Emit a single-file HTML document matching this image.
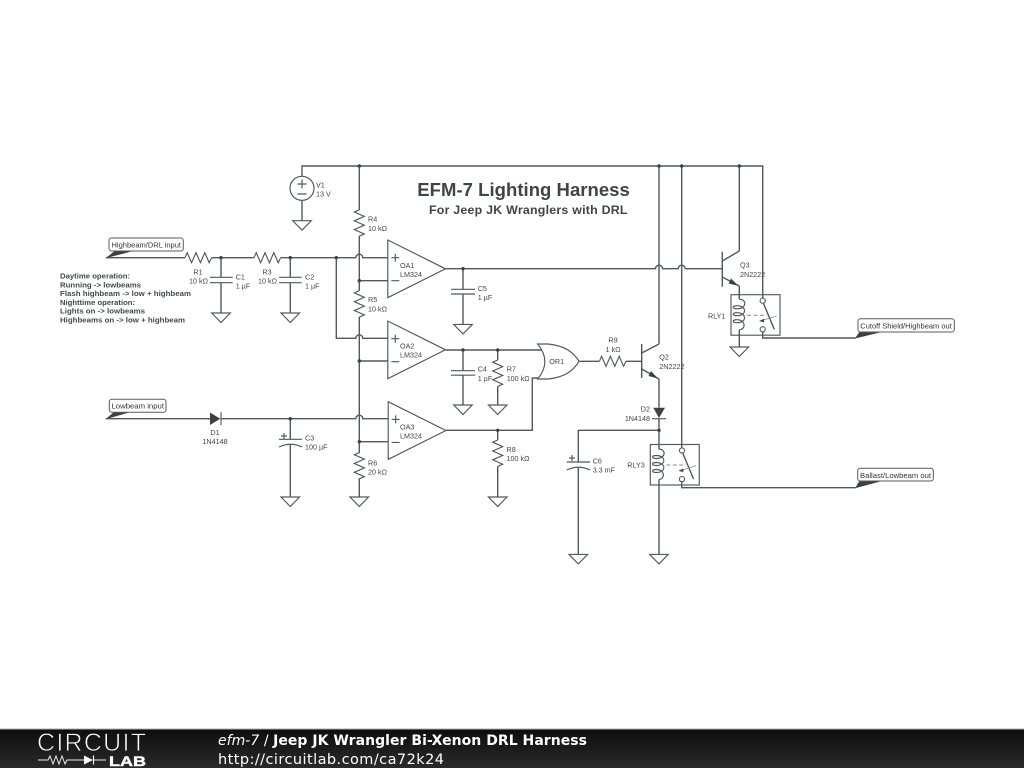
<!DOCTYPE html>
<html><head><meta charset="utf-8"><style>
html,body{margin:0;padding:0;background:#fff;width:1024px;height:768px;overflow:hidden}
svg{display:block;filter:blur(.35px)}
.w{fill:none;stroke:#54585a;stroke-width:1.4}
.s{fill:none;stroke:#54585a;stroke-width:1.15}
.t{font-family:"Liberation Sans",sans-serif;font-size:7.2px;fill:#444}
.b{font-family:"Liberation Sans",sans-serif;font-size:7.4px;font-weight:bold;fill:#44474a}
.l{font-family:"Liberation Sans",sans-serif;font-size:7.2px;fill:#333}
.lb{fill:#fff;stroke:#5a5a5a;stroke-width:1}
.d{fill:#3c4143}
</style></head><body>
<svg width="1024" height="768" viewBox="0 0 1024 768" xmlns="http://www.w3.org/2000/svg">
<defs>
<g id="g"><path class="s" d="M-9.3 0H9.3L0 9.5Z"/></g>
<g id="rh"><path class="s" d="M0 0L2.2 -5L6.6 5L11 -5L15.4 5L19.8 -5L24.2 5L26.6 0"/></g>
<g id="rv"><path class="s" d="M0 0L-5 2.2L5 6.6L-5 11L5 15.4L-5 19.8L5 24.2L0 26.4"/></g>
<g id="j"><circle r="1.7" fill="#3c4143"/></g>
<g id="oa"><path class="s" d="M0 0V57.7L57.7 28.8Z"/><path class="s" d="M3.5 17.7H11.5M7.5 13.7V21.7M3.5 40.7H11.5"/></g>
<g id="rly">
<rect class="s" x="0" y="0" width="49" height="40.5"/>
<path class="s" d="M8.3 4.5C16 4.5 16 14 6 14C1 14 1 11 6 11C16 11 16 21 6 21C1 21 1 18 6 18C16 18 16 28 6 28C1 28 1 25 6 25C15 25 15 35 8.3 35"/>
<path fill="none" stroke="#888" stroke-width="1" stroke-dasharray="4 2.5" d="M16 20.5H36"/>
<circle cx="31.7" cy="6" r="2.6" fill="#fff" stroke="#54585a" stroke-width="1.1"/>
<circle cx="31.7" cy="34.6" r="2.6" fill="#fff" stroke="#54585a" stroke-width="1.1"/>
<path class="w" d="M32.4 8.5L43.3 34.6"/>
<path fill="none" stroke="#888" stroke-width=".8" d="M45.7 21.3L30 26"/>
<path class="d" d="M28 26.4L33 24V27.5Z"/>
</g>
</defs>

<!-- wires -->
<g class="w">
<path d="M302 176V166H762.7V298"/>
<path d="M302 200V221"/>
<path d="M359.3 166V210M359.3 236V290.7M359.3 317V453.3M359.3 478.3V497"/>
<path d="M659 166V344M681.7 166V447.7M739.3 166V251"/>
<path d="M106 257.7H185M211.6 257.7H254M280.6 257.7H355.8A3.5 3.5 0 0 1 362.8 257.7H388"/>
<path d="M336.3 257.7V338.3H355.8A3.5 3.5 0 0 1 362.8 338.3H388"/>
<path d="M359.3 280.7H388M359.3 361H388M359.3 441.7H388"/>
<path d="M106 418.7H210M221 418.7H355.8A3.5 3.5 0 0 1 362.8 418.7H388"/>
<path d="M221 257.7V277.3M221 282.7V313M290.3 257.7V277.3M290.3 282.7V313"/>
<path d="M445.3 268.7H655.5A3.5 3.5 0 0 1 662.5 268.7H678.2A3.5 3.5 0 0 1 685.2 268.7H722.3"/>
<path d="M463 268.7V289.3M463 294V324.5"/>
<path d="M445.3 350H541.5"/>
<path d="M463 350V370.7M463 375V405M497.7 350V360M497.7 386.4V405"/>
<path d="M446 430.3H532.3V378H539"/>
<path d="M497.7 430.3V440M497.7 466.4V497"/>
<path d="M579 361.3H599.3M626 361.3H641.7"/>
<path d="M659 379V407.7M659 418.5V449M659 480V554.5"/>
<path d="M659 430.3H578.3V462M578.3 468V554.5"/>
<path d="M290.3 418.7V439.3M290.3 444V497"/>
<path d="M739.3 286V299.2M739.3 330V347"/>
<path d="M762.7 332V338H856"/>
<path d="M681.7 481.5V487.7H856"/>
</g>

<!-- transistors -->
<g class="w">
<path d="M641.7 344V378M641.7 353L659 344M641.7 369L659 379"/>
<path d="M722.3 251.7V286.7M722.3 261L739.3 251M722.3 277L739.3 286"/>
</g>
<path class="d" d="M658 378.5L651 371L648.5 376Z"/>
<path class="d" d="M738.3 285.7L731 278.5L728.5 283.5Z"/>

<!-- V1 -->
<circle cx="302" cy="188.3" r="12" fill="#fff" stroke="#54585a" stroke-width="1.2"/>
<path class="s" d="M297.5 184H306.5M302 179.5V188.5M297.5 194H306.5"/>

<!-- grounds -->
<use href="#g" x="302" y="220.7"/>
<use href="#g" x="221" y="313"/>
<use href="#g" x="290.3" y="313"/>
<use href="#g" x="463" y="324.4"/>
<use href="#g" x="463" y="405"/>
<use href="#g" x="497.7" y="405"/>
<use href="#g" x="290.3" y="497"/>
<use href="#g" x="359.3" y="497"/>
<use href="#g" x="497.7" y="497"/>
<use href="#g" x="578.3" y="554.4"/>
<use href="#g" x="659" y="554.4"/>
<use href="#g" x="739.3" y="347"/>

<!-- resistors -->
<use href="#rh" x="185" y="257.7"/>
<use href="#rh" x="254" y="257.7"/>
<use href="#rh" x="599.4" y="361.3"/>
<use href="#rv" x="359.3" y="209.8"/>
<use href="#rv" x="359.3" y="290.7"/>
<use href="#rv" x="359.3" y="452.5"/>
<use href="#rv" x="497.7" y="360"/>
<use href="#rv" x="497.7" y="440"/>

<!-- capacitors -->
<g class="s">
<path d="M210 277.3H232.7M210 282.7H232.7"/>
<path d="M279 277.3H301.6M279 282.7H301.6"/>
<path d="M451 289.3H475M451 294H475"/>
<path d="M451 370.7H475M451 375.2H475"/>
<path d="M279 439.3H302M279 447Q290.5 441.5 302 447M284 433V439M281 436H287"/>
<path d="M566.7 462H590M566.7 470Q578.3 464.5 590 470M572 455V461M569 458H575"/>
</g>

<!-- op amps -->
<use href="#oa" x="387.8" y="240"/>
<use href="#oa" x="387.8" y="321"/>
<use href="#oa" x="388.2" y="401.7"/>

<!-- OR gate -->
<path class="s" fill="#fff" d="M537.7 344H548Q570 346 579 361.3Q570 377 548 379H537.7Q552 361.5 537.7 344Z"/>

<!-- diodes -->
<path class="d" d="M210 412.5V425L220.3 418.7Z"/>
<path class="s" d="M221 412.3V425.2"/>
<path class="d" d="M653.3 407.7H665L659 418Z"/>
<path class="s" d="M652 418.7H666"/>

<!-- junctions -->
<use href="#j" x="359.3" y="166"/><use href="#j" x="659" y="166"/><use href="#j" x="681.7" y="166"/><use href="#j" x="739.3" y="166"/>
<use href="#j" x="221" y="257.7"/><use href="#j" x="290.3" y="257.7"/><use href="#j" x="336.3" y="257.7"/>
<use href="#j" x="359.3" y="280.7"/><use href="#j" x="359.3" y="361"/><use href="#j" x="359.3" y="441.7"/>
<use href="#j" x="463" y="268.7"/><use href="#j" x="463" y="350"/><use href="#j" x="497.7" y="350"/>
<use href="#j" x="497.7" y="430.3"/><use href="#j" x="290.3" y="418.7"/><use href="#j" x="659" y="430.3"/>

<!-- relays -->
<use href="#rly" x="731" y="294.7"/>
<use href="#rly" x="650.3" y="444.5"/>

<!-- net labels -->
<path class="d" d="M105.5 258.3L116 250H137Z"/>
<rect class="lb" x="109" y="238" width="74.3" height="13" rx="2.5"/>
<text class="l" x="111.5" y="247.3" textLength="69.5" lengthAdjust="spacingAndGlyphs">Highbeam/DRL input</text>
<path class="d" d="M105.5 419.2L114 412H131Z"/>
<rect class="lb" x="109.3" y="399.3" width="56.7" height="13" rx="2.5"/>
<text class="l" x="111.5" y="408.7" textLength="52.5" lengthAdjust="spacingAndGlyphs">Lowbeam input</text>
<path class="d" d="M855 338.5L860 331H886Z"/>
<rect class="lb" x="858" y="318.7" width="96.3" height="13.3" rx="2.5"/>
<text class="l" x="860.3" y="328.3" textLength="91.5" lengthAdjust="spacingAndGlyphs">Cutoff Shield/Highbeam out</text>
<path class="d" d="M855 488.2L860 480H886Z"/>
<rect class="lb" x="857.7" y="468.3" width="75.6" height="12.7" rx="2.5"/>
<text class="l" x="860" y="478" textLength="71" lengthAdjust="spacingAndGlyphs">Ballast/Lowbeam out</text>

<!-- title -->
<text x="417.3" y="196" font-family="'Liberation Sans',sans-serif" font-weight="bold" font-size="18.5" fill="#3f4446" textLength="212.5" lengthAdjust="spacing">EFM-7 Lighting Harness</text>
<text x="429" y="214" font-family="'Liberation Sans',sans-serif" font-weight="bold" font-size="12.4" fill="#3f4446" textLength="198.5" lengthAdjust="spacing">For Jeep JK Wranglers with DRL</text>

<!-- notes -->
<text class="b" x="60" y="278.5" textLength="70" lengthAdjust="spacingAndGlyphs">Daytime operation:</text>
<text class="b" x="60" y="287.3" textLength="81" lengthAdjust="spacingAndGlyphs">Running -&gt; lowbeams</text>
<text class="b" x="60" y="296" textLength="131" lengthAdjust="spacingAndGlyphs">Flash highbeam -&gt; low + highbeam</text>
<text class="b" x="60" y="304.8" textLength="75" lengthAdjust="spacingAndGlyphs">Nighttime operation:</text>
<text class="b" x="60" y="313.7" textLength="85" lengthAdjust="spacingAndGlyphs">Lights on -&gt; lowbeams</text>
<text class="b" x="60" y="322.5" textLength="125" lengthAdjust="spacingAndGlyphs">Highbeams on -&gt; low + highbeam</text>

<!-- component labels -->
<g class="t">
<text x="316" y="187.5">V1</text><text x="316" y="196.5">13 V</text>
<text x="368" y="221.5">R4</text><text x="368" y="231">10 kΩ</text>
<text x="368" y="302">R5</text><text x="368" y="311.5">10 kΩ</text>
<text x="368" y="465.5">R6</text><text x="368" y="474.5">20 kΩ</text>
<text x="198" y="274.5" text-anchor="middle">R1</text><text x="198.5" y="283.5" text-anchor="middle">10 kΩ</text>
<text x="267" y="274.5" text-anchor="middle">R3</text><text x="267.5" y="283.5" text-anchor="middle">10 kΩ</text>
<text x="235.7" y="279.5">C1</text><text x="235.7" y="288.5">1 µF</text>
<text x="305" y="279.5">C2</text><text x="305" y="288.5">1 µF</text>
<text x="400" y="268">OA1</text><text x="400" y="277">LM324</text>
<text x="400" y="348.7">OA2</text><text x="400" y="357.7">LM324</text>
<text x="400" y="429.5">OA3</text><text x="400" y="438.5">LM324</text>
<text x="477.7" y="291">C5</text><text x="477.7" y="300">1 µF</text>
<text x="477.7" y="371.7">C4</text><text x="477.7" y="381">1 µF</text>
<text x="506.7" y="371.7">R7</text><text x="506.7" y="381">100 kΩ</text>
<text x="506.5" y="452">R8</text><text x="506.5" y="461">100 kΩ</text>
<text x="305" y="440.5">C3</text><text x="305" y="449.5">100 µF</text>
<text x="215" y="435" text-anchor="middle">D1</text><text x="215" y="444" text-anchor="middle">1N4148</text>
<text x="556.7" y="363.8" text-anchor="middle">OR1</text>
<text x="613" y="342.5" text-anchor="middle">R9</text><text x="613" y="352" text-anchor="middle">1 kΩ</text>
<text x="659.3" y="359.5">Q2</text><text x="659.3" y="369">2N2222</text>
<text x="740" y="267.5">Q3</text><text x="740" y="277">2N2222</text>
<text x="650" y="411.5" text-anchor="end">D2</text><text x="650" y="421" text-anchor="end">1N4148</text>
<text x="592.7" y="463.5">C6</text><text x="592.7" y="472.5">3.3 mF</text>
<text x="708" y="318.5">RLY1</text>
<text x="627.3" y="467.5">RLY3</text>
</g>

<!-- footer -->
<defs><linearGradient id="fb" x1="0" y1="0" x2="0" y2="1"><stop offset="0" stop-color="#0d0d0d"/><stop offset="1" stop-color="#2a2a2a"/></linearGradient></defs>
<rect x="0" y="729" width="1024" height="39" fill="url(#fb)"/>
<rect x="0" y="728.6" width="1024" height="1" fill="#999"/>
<text x="37" y="751" font-family="'Liberation Sans',sans-serif" font-size="25" fill="#fff" stroke="#181818" stroke-width=".8" textLength="109" lengthAdjust="spacing">CIRCUIT</text>
<path fill="none" stroke="#eee" stroke-width="1" d="M38 760H48L50 756L53 764L56 756L59 764L62 756L65 764L67 760H84M93 760H106"/>
<path fill="#fff" d="M84 755.5V764.5L93 760Z"/>
<path fill="none" stroke="#fff" stroke-width="1.2" d="M93.5 755.5V764.5"/>
<text x="109" y="766" font-family="'Liberation Sans',sans-serif" font-size="13.5" font-weight="bold" fill="#fff" stroke="#fff" stroke-width=".4" textLength="37" lengthAdjust="spacingAndGlyphs">LAB</text>
<text x="218" y="745" font-family="'DejaVu Sans',sans-serif" font-size="14" fill="#fff" textLength="369" lengthAdjust="spacing"><tspan font-style="italic">efm-7</tspan> / <tspan font-weight="bold">Jeep JK Wrangler Bi-Xenon DRL Harness</tspan></text>
<text x="218" y="764" font-family="'DejaVu Sans',sans-serif" font-size="14.5" fill="#fff" textLength="226" lengthAdjust="spacing">http://circuitlab.com/ca72k24</text>
</svg>
</body></html>
